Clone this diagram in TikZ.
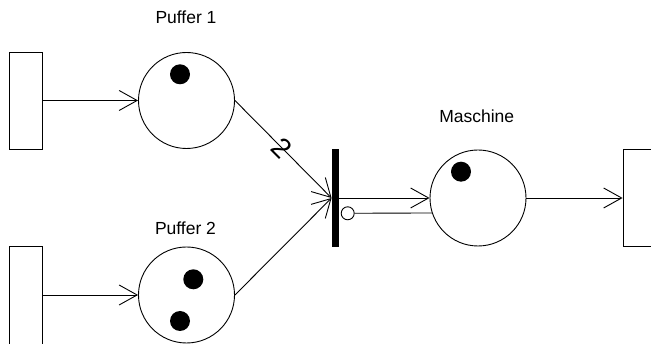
\documentclass[tikz,border=0pt]{standalone}
\usepackage{fontspec}
\setmainfont{Liberation Sans}
\usetikzlibrary{arrows.meta,calc}
\begin{document}
\begin{tikzpicture}[x=1pt,y=-1pt,
  line width=0.9pt,
  place/.style={circle,draw,minimum size=96pt,inner sep=0pt},
  token/.style={circle,fill=black,minimum size=20pt,inner sep=0pt},
  boundary/.style={draw,rectangle,inner sep=0pt},
  transbar/.style={rectangle,fill=black,minimum width=7pt,minimum height=98pt,inner sep=0pt},
  inhib/.style={circle,draw,minimum size=13pt,inner sep=0pt},
  lbl/.style={font=\fontsize{17.5}{20}\selectfont,inner sep=0pt},
  weight/.style={font=\fontsize{28}{30}\selectfont,inner sep=0pt,rotate=-45},
  arc/.style={-{Straight Barb[length=18pt,width=20pt]}},
]
\clip (0,0) rectangle (651,344);

% sources and sink
\node[boundary,minimum width=33pt,minimum height=97pt] (s1) at (25.5,100.5) {};
\node[boundary,minimum width=33pt,minimum height=104pt] (s2) at (25.5,298) {};
\node[boundary,minimum width=44pt,minimum height=97.5pt] (sink) at (645,198) {};

% places
\node[place] (p1) at (186.5,100.5) {};
\node[place] (p2) at (186.5,295) {};
\node[place] (m) at (478,198) {};

% place labels
\node[lbl] (lp1) at (186,17) {Puffer 1};
\node[lbl] (lp2) at (185.5,228.3) {Puffer 2};
\node[lbl] (lm) at (476.7,116) {Maschine};

% tokens
\node[token] (k1) at (180,74.3) {};
\node[token] (k2) at (193.3,279.3) {};
\node[token] (k3) at (180,321) {};
\node[token] (k4) at (461,171.7) {};

% transition with its inhibitor circle
\node[transbar] (t) at (335.5,198) {};
\node[inhib] (inh) at (347.7,213.3) {};

% arcs
\draw[arc] (s1.east) -- (p1.west);
\draw[arc] (s2.east |- p2.west) -- (p2.west);
\draw[arc] (p1.east) -- (t.west);
\draw[arc] (p2.east) -- (t.west);
\draw[arc] (t.east) -- (m.west);
\draw (m.198.6) -- (inh);
\draw[arc] (m.east) -- (sink.west);

% arc weight, written along the upper input arc
\node[weight] (w) at ($(p1.east)!0.485!(t.west)$) {2};
\end{tikzpicture}
\end{document}
